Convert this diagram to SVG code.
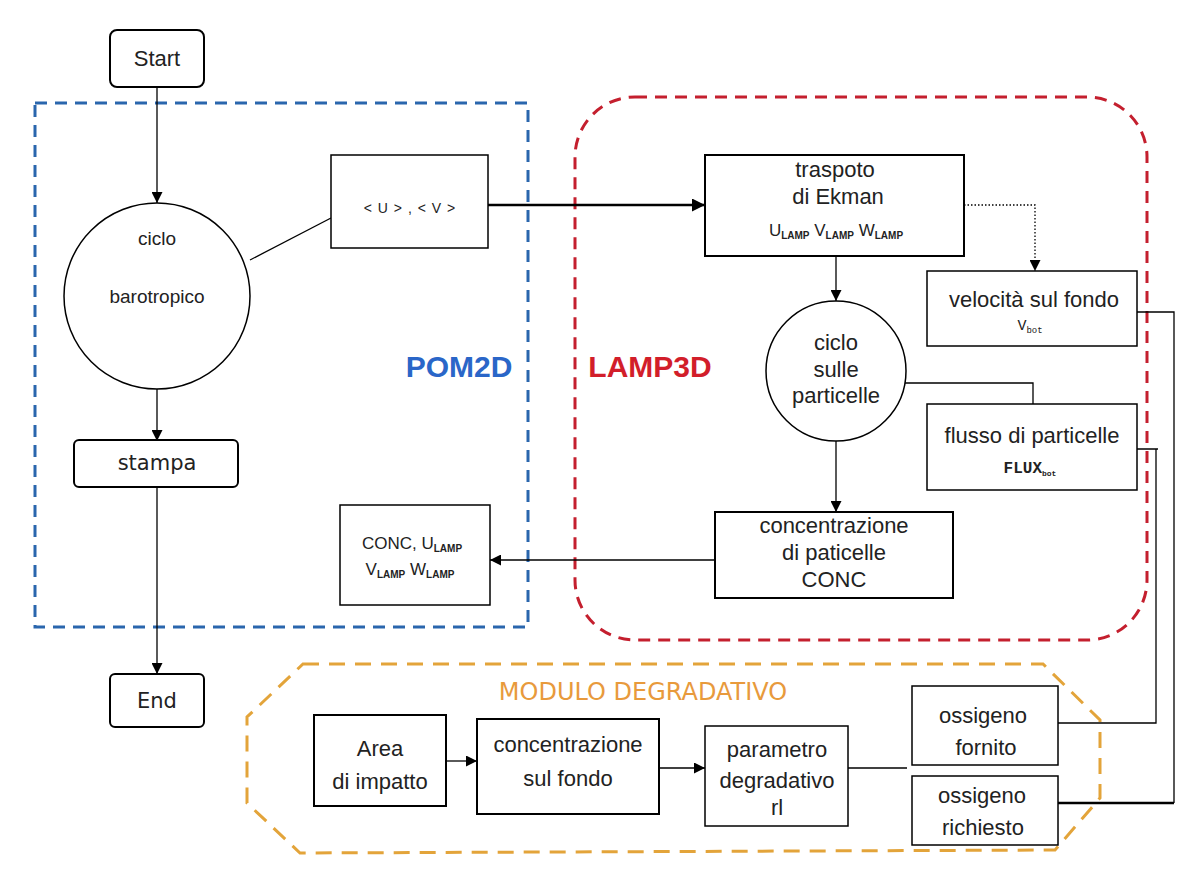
<svg xmlns="http://www.w3.org/2000/svg" width="1183" height="875" viewBox="0 0 1183 875">
<style>
.box{fill:#fff;stroke:#000;stroke-width:2}
.thin{fill:#fff;stroke:#000;stroke-width:1.5}
.t{font-family:"Liberation Sans",Arial,sans-serif;font-size:22px;fill:#222;text-anchor:middle}
.sm{font-size:19px}
.m{font-size:17px}
.c{font-family:"DejaVu Sans","Liberation Sans",sans-serif;font-size:21px;fill:#222;text-anchor:middle}
.s{font-size:10px;font-weight:bold}
.ln{fill:none;stroke:#000;stroke-width:1.3}
</style>
<defs>
<marker id="ah" viewBox="0 0 10 10" refX="10" refY="5" markerWidth="11" markerHeight="11" orient="auto" markerUnits="userSpaceOnUse">
<path d="M0,0 L10,5 L0,10 z" fill="#000"/>
</marker>
<marker id="ah2" viewBox="0 0 10 10" refX="10" refY="5" markerWidth="13" markerHeight="13" orient="auto" markerUnits="userSpaceOnUse">
<path d="M0,0 L10,5 L0,10 z" fill="#000"/>
</marker>
</defs>
<rect width="1183" height="875" fill="#fff"/>

<g id="containers">
<rect x="35" y="103" width="493" height="524" fill="none" stroke="#2a66ad" stroke-width="3" stroke-dasharray="12,8"/>
<rect x="575" y="97" width="572" height="543" rx="60" ry="60" fill="none" stroke="#c41f2e" stroke-width="3" stroke-dasharray="12,8"/>
<path d="M303,664 L1043,664 L1100,720 L1100,798 L1055,850 L300,853 L247,803 L247,717 Z" fill="none" stroke="#e3a43a" stroke-width="3" stroke-dasharray="16,10"/>
<text x="459" y="377" font-family="Liberation Sans,Arial,sans-serif" font-size="30" font-weight="bold" fill="#2a66c8" text-anchor="middle">POM2D</text>
<text x="650" y="377" font-family="Liberation Sans,Arial,sans-serif" font-size="30" font-weight="bold" fill="#d21e2a" text-anchor="middle">LAMP3D</text>
<text x="643" y="700" font-family="DejaVu Sans,sans-serif" font-size="24" fill="#e89a3c" text-anchor="middle">MODULO DEGRADATIVO</text>
</g>

<g id="connectors">
<path class="ln" d="M157,87 L157,203" marker-end="url(#ah)"/>
<path class="ln" d="M157,389 L157,441" marker-end="url(#ah)"/>
<path class="ln" d="M157,487 L157,674" marker-end="url(#ah)"/>
<path class="ln" d="M250,260 L331,218"/>
<path d="M488,205 L705,205" fill="none" stroke="#000" stroke-width="2.5" marker-end="url(#ah2)"/>
<path d="M964,205 L1035,205 L1035,271" fill="none" stroke="#000" stroke-width="1.3" stroke-dasharray="1.5,2" marker-end="url(#ah)"/>
<path class="ln" d="M836,256 L836,301" marker-end="url(#ah)"/>
<path class="ln" d="M905,383 L1033,383 L1033,404"/>
<path class="ln" d="M836,441 L836,512" marker-end="url(#ah)"/>
<path class="ln" d="M715,560 L490,560" marker-end="url(#ah)"/>
<path class="ln" d="M446,761 L477,761" marker-end="url(#ah)"/>
<path class="ln" d="M659,768 L705,768" marker-end="url(#ah)"/>
<path class="ln" d="M848,768 L907,768"/>
<path class="ln" d="M1137,312 L1174,312 L1174,803"/>
<path d="M1058,803 L1174,803" fill="none" stroke="#000" stroke-width="2.5"/>
<path class="ln" d="M1137,449 L1158,449 M1156,449 L1156,723 L1058,723"/>
</g>

<g id="start">
<rect class="box" x="110" y="30" width="94" height="57" rx="7"/>
<text class="t" x="157" y="66">Start</text>
</g>

<g id="ciclo-barotropico">
<circle cx="157" cy="296" r="93" class="thin"/>
<text class="t sm" x="157" y="245">ciclo</text>
<text class="t sm" x="157" y="303">barotropico</text>
</g>

<g id="stampa">
<rect class="box" x="74" y="440" width="164" height="47" rx="5"/>
<text class="c" x="157" y="470">stampa</text>
</g>

<g id="end">
<rect class="box" x="110" y="674" width="94" height="53" rx="5"/>
<text class="c" x="157" y="708">End</text>
</g>

<g id="uv">
<rect class="thin" x="331" y="155" width="157" height="93"/>
<text class="t" x="410" y="213" style="font-size:14px;letter-spacing:1px">&lt; U &gt; , &lt; V &gt;</text>
</g>

<g id="ekman">
<rect class="box" x="705" y="155" width="259" height="101"/>
<text class="t" x="835" y="177">traspoto</text>
<text class="t" x="838" y="204">di Ekman</text>
<text class="t m" x="836" y="236">U<tspan class="s" dy="3">LAMP</tspan><tspan dy="-3"> V</tspan><tspan class="s" dy="3">LAMP</tspan><tspan dy="-3"> W</tspan><tspan class="s" dy="3">LAMP</tspan></text>
</g>

<g id="velocita">
<rect class="thin" x="927" y="271" width="210" height="75"/>
<text class="t" x="1034" y="307">velocità sul fondo</text>
<text x="1030" y="330" font-family="Liberation Mono,monospace" font-size="15" fill="#222" text-anchor="middle">V<tspan font-size="9" dy="3">bot</tspan></text>
</g>

<g id="ciclo-particelle">
<circle cx="836" cy="371" r="70" class="thin"/>
<text class="t" x="836" y="350">ciclo</text>
<text class="t" x="836" y="377">sulle</text>
<text class="t" x="836" y="403">particelle</text>
</g>

<g id="flusso">
<rect class="thin" x="927" y="404" width="210" height="86"/>
<text class="t" x="1032" y="443">flusso di particelle</text>
<text x="1030" y="473" font-family="Liberation Mono,monospace" font-size="16" font-weight="bold" fill="#222" text-anchor="middle">FLUX<tspan font-size="8" dy="3">bot</tspan></text>
</g>

<g id="concentrazione-particelle">
<rect class="box" x="715" y="512" width="238" height="86"/>
<text class="t" x="834" y="533">concentrazione</text>
<text class="t" x="834" y="560">di paticelle</text>
<text class="t" x="834" y="587">CONC</text>
</g>

<g id="conc-u">
<rect class="thin" x="340" y="505" width="150" height="100"/>
<text class="t m" x="412" y="549">CONC, U<tspan class="s" dy="3">LAMP</tspan></text>
<text class="t m" x="410" y="575">V<tspan class="s" dy="3">LAMP</tspan><tspan dy="-3"> W</tspan><tspan class="s" dy="3">LAMP</tspan></text>
</g>

<g id="area-impatto">
<rect class="box" x="314" y="715" width="132" height="91"/>
<text class="t" x="380" y="756">Area</text>
<text class="t" x="380" y="789">di impatto</text>
</g>

<g id="concentrazione-fondo">
<rect class="box" x="477" y="719" width="182" height="95"/>
<text class="t" x="568" y="752">concentrazione</text>
<text class="t" x="568" y="786">sul fondo</text>
</g>

<g id="parametro">
<rect class="thin" x="705" y="726" width="143" height="100"/>
<text class="t" x="777" y="757">parametro</text>
<text class="t" x="777" y="788">degradativo</text>
<text class="t" x="777" y="815">rl</text>
</g>

<g id="ossigeno-fornito">
<rect class="thin" x="912" y="686" width="146" height="79"/>
<text class="t" x="983" y="723">ossigeno</text>
<text class="t" x="986" y="755">fornito</text>
</g>

<g id="ossigeno-richiesto">
<rect class="thin" x="912" y="776" width="146" height="69"/>
<text class="t" x="982" y="803">ossigeno</text>
<text class="t" x="983" y="835">richiesto</text>
</g>
</svg>
